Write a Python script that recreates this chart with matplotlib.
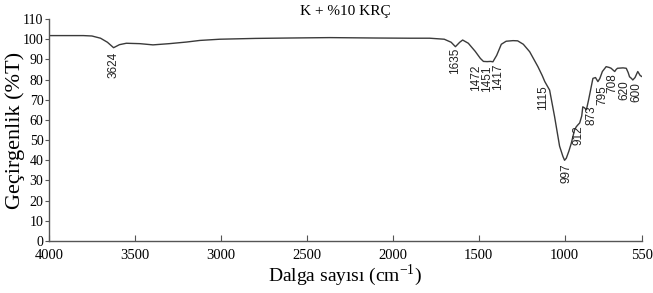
import matplotlib
matplotlib.use('Agg')
import matplotlib.pyplot as plt

# spectrum (wavenumber, %T)
wavenumber = [4000, 3900, 3800, 3750, 3700, 3660, 3624, 3590, 3550, 3471, 3395, 3300, 3200, 3122,
              3006, 2800, 2600, 2366, 2100, 1900, 1785, 1700, 1660, 1635, 1610, 1593, 1560,
              1520, 1490, 1472, 1451, 1430, 1417, 1395, 1368, 1340, 1300, 1273, 1240, 1203,
              1155, 1130, 1115, 1087, 1058, 1029, 1010, 1000, 990, 975, 961, 942, 932, 923,
              912, 900, 894, 884, 873, 860, 835, 820, 806, 795, 780, 758, 740, 729, 715, 708,
              700, 692, 660, 641, 630, 622, 610, 603, 590, 574, 560, 550]
transmittance = [101.8, 101.8, 101.8, 101.6, 100.5, 98.5, 95.8, 97.3, 98.0, 97.8, 97.2, 97.8, 98.6, 99.4,
                 100.0, 100.4, 100.6, 100.8, 100.6, 100.5, 100.5, 100.0, 98.5, 96.3, 98.5, 99.6, 98.0,
                 94.0, 90.5, 89.0, 88.9, 89.0, 88.8, 92.0, 97.5, 99.0, 99.3, 99.2, 97.5, 93.8,
                 86.4, 82.0, 79.0, 74.8, 61.6, 47.0, 42.0, 40.0, 41.0, 44.5, 48.4, 55.0, 56.6, 57.5,
                 58.5, 62.0, 66.5, 66.0, 65.0, 70.0, 80.6, 81.0, 79.0, 80.5, 84.0, 86.4, 86.0, 85.6, 84.5, 84.0,
                 85.0, 85.6, 85.8, 85.6, 83.5, 81.4, 80.5, 79.8, 81.0, 84.0, 82.0, 81.5]

# peak labels: text, x position, top of text
peak_labels = ['3624', '1635', '1472', '1451', '1417', '1115', '997', '912', '873', '795', '708', '620', '600']
label_x = [3624, 1640, 1514, 1450, 1388, 1126, 990, 916, 845, 780, 719, 651, 584]
label_top = [93.7, 95.6, 87.2, 87.2, 88.2, 77.3, 38.7, 57.5, 67.0, 77.3, 83.3, 79.8, 78.8]

x_ticks = [4000, 3500, 3000, 2500, 2000, 1500, 1000, 550]
y_ticks = list(range(0, 111, 10))

plt.rcParams['font.family'] = ['Liberation Serif', 'DejaVu Serif']

fig = plt.figure(figsize=(6.53, 2.93), dpi=100)
ax = fig.add_axes([0.075, 0.1775, 0.908, 0.7575])

ax.plot(wavenumber, transmittance, color='#3a3a3a', lw=1.0)

for txt, lx, ly in zip(peak_labels, label_x, label_top):
    ax.text(lx, ly, txt, rotation=90, ha='center', va='top', fontsize=8.5,
            family='Liberation Sans', color='#222222')

ax.set_xlim(4000, 550)
ax.set_ylim(0, 110)
ax.set_xticks(x_ticks)
ax.set_yticks(y_ticks)

for side in ['top', 'right']:
    ax.spines[side].set_visible(False)
for side in ['left', 'bottom']:
    ax.spines[side].set_color('#555555')
    ax.spines[side].set_linewidth(1.0)

ax.tick_params(axis='x', direction='in', length=4, color='#555555', labelsize=10.5, pad=6)
ax.tick_params(axis='y', direction='out', length=3, color='#555555', labelsize=10, pad=1)

ax.set_title('K + %10 KRÇ', fontsize=11, pad=3)
ax.set_xlabel('Dalga sayısı (cm$^{\\mathregular{-1}}$)', fontsize=14, labelpad=0)
ax.set_ylabel('Geçirgenlik (%T)', fontsize=16)
ax.yaxis.set_label_coords(-0.04, 0.5)

fig.savefig('out.png', dpi=100)
